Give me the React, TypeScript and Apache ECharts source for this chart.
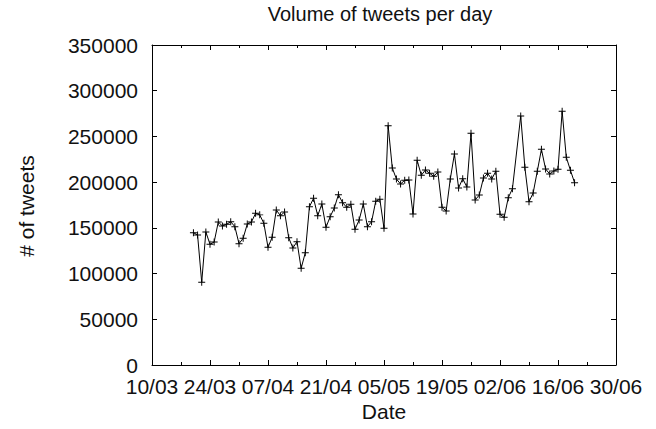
import React, { useEffect, useRef } from "react";
import * as echarts from "echarts";

// x positions are days counted from 10/03
const tickLabels = ["10/03", "24/03", "07/04", "21/04", "05/05", "19/05", "02/06", "16/06", "30/06"];
const firstDay = 10; // 20/03
const tweetsPerDay: (number | null)[] = [
  144700, 142200, 90500, 145500, 132000, 134500, 156400, 152000, 153900, 156700,
  151300, 132700, 138600, 154200, 156400, 165900, 164200, 155000, 128700, 139700,
  169500, 163300, 167300, 139200, 128000, 134900, 105700, 122800, 173100, 182300,
  163300, 176100, 150600, 162200, 171700, 186300, 177500, 172500, 175800, 148400,
  158600, 176100, 151300, 156700, 179000, 181200, 149500, 261700, 215500, 203400,
  198000, 202000, 202300, 165200, 223900, 207500, 213300, 209700, 206400, 211100,
  172500, 168400, 203400, 230800, 193600, 203800, 194700, 253400, 180500, 185900,
  204500, 209700, 203400, 211900, 164800, 161500, 183000, 192800, null, 272300,
  216200, 178600, 188100, 211900, 235900, 214400, 208900, 212200, 214000, 277500,
  227200, 213000, 199400,
];
const title = "Volume of tweets per day";
const xName = "Date";
const yName = "# of tweets";

const FONT = "Liberation Sans";
const FS = 21;
const INK = "#111";

export default function App() {
  const ref = useRef<HTMLDivElement>(null);
  useEffect(() => {
    if (!ref.current) return;
    const chart = echarts.init(ref.current, null, { renderer: "svg" });
    const data = tweetsPerDay.map((v, i) => [firstDay + i, v]);
    const plus =
      "path://M-0.14,-1 L0.14,-1 L0.14,-0.14 L1,-0.14 L1,0.14 L0.14,0.14 L0.14,1 L-0.14,1 L-0.14,0.14 L-1,0.14 L-1,-0.14 L-0.14,-0.14 Z";
    const axisLine = { show: true, onZero: false, lineStyle: { color: "#000", width: 1 } };
    const textStyle = (text: string) => ({
      text,
      fontFamily: FONT,
      fontSize: FS,
      fill: INK,
      align: "center",
      verticalAlign: "middle",
      textAlign: "center",
      textVerticalAlign: "middle",
    });
    chart.setOption({
      animation: false,
      backgroundColor: "#fff",
      grid: { left: 152, right: 40, top: 45, bottom: 64, containLabel: false },
      xAxis: [
        {
          type: "value",
          position: "bottom",
          min: 0,
          max: 112,
          interval: 14,
          axisLine,
          axisTick: { show: true, inside: true, length: 5, lineStyle: { color: "#000" } },
          minorTick: { show: true, splitNumber: 2, length: 3, lineStyle: { color: "#000" } },
          splitLine: { show: false },
          axisLabel: {
            margin: 11,
            fontFamily: FONT,
            fontSize: FS,
            color: INK,
            formatter: (v: number) => tickLabels[Math.round(v / 14)] ?? "",
          },
        },
        {
          type: "value",
          position: "top",
          min: 0,
          max: 112,
          interval: 14,
          axisLine,
          axisTick: { show: true, inside: true, length: 5, lineStyle: { color: "#000" } },
          minorTick: { show: true, splitNumber: 2, length: 3, lineStyle: { color: "#000" } },
          splitLine: { show: false },
          axisLabel: { show: false },
        },
      ],
      yAxis: [
        {
          type: "value",
          position: "left",
          min: 0,
          max: 350000,
          interval: 50000,
          axisLine,
          axisTick: { show: true, inside: true, length: 5, lineStyle: { color: "#000" } },
          splitLine: { show: false },
          axisLabel: {
            margin: 14,
            fontFamily: FONT,
            fontSize: FS,
            color: INK,
            formatter: (v: number) => String(v),
          },
        },
        {
          type: "value",
          position: "right",
          min: 0,
          max: 350000,
          interval: 50000,
          axisLine,
          axisTick: { show: true, inside: true, length: 5, lineStyle: { color: "#000" } },
          splitLine: { show: false },
          axisLabel: { show: false },
        },
      ],
      series: [
        {
          type: "line",
          xAxisIndex: 0,
          yAxisIndex: 0,
          data,
          connectNulls: true,
          symbol: plus,
          symbolSize: 7,
          itemStyle: { color: "#000" },
          lineStyle: { color: "#000", width: 1 },
        },
      ],
      graphic: [
        { type: "text", x: 380, y: 14, style: { ...textStyle(title), fontSize: 20 } },
        { type: "text", x: 384, y: 411, style: textStyle(xName) },
        { type: "text", x: 26, y: 206, rotation: Math.PI / 2, style: textStyle(yName) },
      ],
    });
    return () => chart.dispose();
  }, []);
  return (
    <div
      ref={ref}
      style={{ position: "fixed", left: 0, top: 0, width: 656, height: 429, background: "#fff" }}
    />
  );
}
